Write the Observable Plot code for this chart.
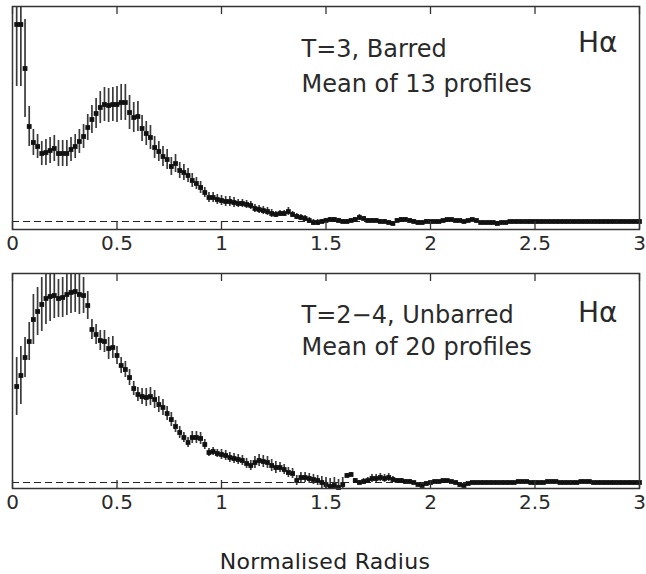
<!DOCTYPE html>
<html>
<head>
<meta charset="utf-8">
<script src="https://cdn.jsdelivr.net/npm/d3@7"></script>
<script src="https://cdn.jsdelivr.net/npm/@observablehq/plot@0.6"></script>
<style>
  html, body { margin: 0; padding: 0; background: white; }
  #wrap { position: relative; width: 646px; height: 574px; overflow: hidden; }
  #wrap svg { display: block; }
  #wrap svg g[aria-label^="x-axis"], #wrap svg g[aria-label^="x-axis"] text { font-size: 20px; }
  #xlabel { position: absolute; left: 0; width: 650px; top: 552px; text-align: center;
            font-family: "DejaVu Sans", sans-serif; font-size: 22px; line-height: 20px; color: #222;
            letter-spacing: 0.3px; }
</style>
</head>
<body>
<div id="wrap"></div>
<script>
// Radius bins (normalised radius)
const radius = [
  0.02,0.04,0.06,0.08,0.10,0.12,0.14,0.16,0.18,0.20,
  0.22,0.24,0.26,0.28,0.30,0.32,0.34,0.36,0.38,0.40,
  0.42,0.44,0.46,0.48,0.50,0.52,0.54,0.56,0.58,0.60,
  0.62,0.64,0.66,0.68,0.70,0.72,0.74,0.76,0.78,0.80,
  0.82,0.84,0.86,0.88,0.90,0.92,0.94,0.96,0.98,1.00,
  1.02,1.04,1.06,1.08,1.10,1.12,1.14,1.16,1.18,1.20,
  1.22,1.24,1.26,1.28,1.30,1.32,1.34,1.36,1.38,1.40,
  1.42,1.44,1.46,1.48,1.50,1.52,1.54,1.56,1.58,1.60,
  1.62,1.64,1.66,1.68,1.70,1.72,1.74,1.76,1.78,1.80,
  1.82,1.84,1.86,1.88,1.90,1.92,1.94,1.96,1.98,2.00,
  2.02,2.04,2.06,2.08,2.10,2.12,2.14,2.16,2.18,2.20,
  2.22,2.24,2.26,2.28,2.30,2.32,2.34,2.36,2.38,2.40,
  2.42,2.44,2.46,2.48,2.50,2.52,2.54,2.56,2.58,2.60,
  2.62,2.64,2.66,2.68,2.70,2.72,2.74,2.76,2.78,2.80,
  2.82,2.84,2.86,2.88,2.90,2.92,2.94,2.96,2.98,3.00
];

// T=3, Barred: mean profile (arbitrary units, 0 = dashed baseline)
const barredMean = [
  1.97,1.97,1.53,0.95,0.79,0.75,0.68,0.69,0.71,0.73,
  0.68,0.68,0.68,0.72,0.75,0.80,0.85,0.94,1.02,1.08,
  1.14,1.17,1.16,1.17,1.17,1.19,1.19,1.09,1.04,1.05,
  0.93,0.88,0.84,0.74,0.70,0.65,0.62,0.55,0.58,0.51,
  0.49,0.46,0.41,0.38,0.34,0.29,0.24,0.24,0.22,0.21,
  0.20,0.20,0.19,0.18,0.18,0.17,0.16,0.13,0.12,0.11,
  0.10,0.08,0.07,0.08,0.08,0.10,0.07,0.05,0.04,0.03,
  0.01,-0.01,-0.01,0.00,0.01,0.02,0.02,0.01,0.00,0.00,
  0.01,0.02,0.04,0.03,0.01,0.01,0.01,0.00,0.00,-0.01,
  -0.02,0.01,0.02,0.02,0.01,0.00,-0.01,-0.01,0.00,0.00,
  0.00,0.00,0.01,0.02,0.02,0.01,0.01,0.00,0.01,0.02,
  0.01,-0.01,-0.01,-0.01,-0.01,-0.02,-0.01,-0.01,0.00,0.00,
  0.00,0.00,0.00,0.00,0.00,0.00,0.00,0.00,0.00,0.00,
  0.00,0.00,0.00,0.00,0.00,0.00,0.00,0.00,0.00,0.00,
  0.00,0.00,0.00,0.00,0.00,0.00,0.00,0.00,0.00,0.00
];
const barredErr = [
  0.62,0.62,0.49,0.20,0.13,0.12,0.12,0.13,0.13,0.13,
  0.13,0.13,0.13,0.12,0.12,0.12,0.12,0.13,0.14,0.15,
  0.16,0.17,0.17,0.17,0.18,0.18,0.18,0.17,0.15,0.15,
  0.13,0.12,0.12,0.11,0.10,0.10,0.10,0.09,0.09,0.08,
  0.08,0.07,0.07,0.06,0.06,0.05,0.05,0.05,0.05,0.05,
  0.05,0.05,0.05,0.04,0.04,0.04,0.04,0.04,0.04,0.04,
  0.04,0.04,0.03,0.03,0.03,0.04,0.03,0.03,0.03,0.03,
  0.03,0.03,0.03,0.02,0.02,0.02,0.02,0.02,0.02,0.02,
  0.02,0.02,0.03,0.02,0.02,0.02,0.02,0.02,0.02,0.02,
  0.02,0.02,0.02,0.02,0.02,0.02,0.02,0.02,0.02,0.01,
  0.01,0.01,0.01,0.01,0.01,0.01,0.01,0.01,0.01,0.01,
  0.01,0.01,0.01,0.01,0.01,0.01,0.01,0.01,0.01,0.01,
  0.01,0.01,0.01,0.01,0.01,0.01,0.01,0.01,0.01,0.01,
  0.01,0.01,0.01,0.01,0.01,0.01,0.01,0.01,0.01,0.01,
  0.01,0.01,0.01,0.01,0.01,0.01,0.01,0.01,0.01,0.01
];

// T=2-4, Unbarred: mean profile
const unbarredMean = [
  0.96,1.07,1.25,1.41,1.63,1.71,1.78,1.84,1.86,1.87,
  1.84,1.85,1.88,1.90,1.91,1.88,1.87,1.77,1.53,1.48,
  1.42,1.41,1.34,1.35,1.27,1.17,1.13,1.05,0.94,0.88,
  0.86,0.85,0.86,0.83,0.78,0.75,0.69,0.63,0.56,0.50,
  0.45,0.40,0.45,0.45,0.44,0.38,0.30,0.31,0.29,0.28,
  0.27,0.25,0.24,0.23,0.22,0.19,0.17,0.20,0.22,0.21,
  0.20,0.17,0.15,0.15,0.13,0.10,0.09,0.02,0.05,0.05,
  0.04,0.03,0.02,0.00,-0.02,-0.04,-0.03,-0.05,-0.02,0.07,
  0.08,0.02,0.00,0.01,0.02,0.04,0.04,0.05,0.04,0.05,
  0.03,0.02,0.02,0.01,0.01,0.00,-0.02,-0.03,-0.01,0.00,
  0.01,0.01,0.02,0.02,0.01,0.00,-0.02,-0.03,-0.01,0.00,
  0.00,0.00,0.00,0.00,0.00,0.00,0.00,0.00,0.00,0.00,
  0.01,0.01,0.01,0.00,0.00,0.00,0.00,0.01,0.01,0.01,
  0.00,0.00,0.00,0.00,0.00,0.01,0.01,0.01,0.00,0.00,
  0.00,0.00,0.00,0.00,0.00,0.00,0.00,0.00,0.00,0.00
];
const unbarredErr = [
  0.29,0.29,0.20,0.19,0.25,0.24,0.27,0.26,0.25,0.23,
  0.19,0.20,0.21,0.21,0.21,0.20,0.18,0.14,0.10,0.10,
  0.10,0.11,0.11,0.11,0.09,0.08,0.08,0.08,0.07,0.07,
  0.08,0.09,0.09,0.09,0.08,0.08,0.07,0.07,0.06,0.06,
  0.05,0.05,0.06,0.06,0.06,0.05,0.04,0.04,0.04,0.05,
  0.05,0.05,0.05,0.05,0.05,0.05,0.05,0.06,0.06,0.06,
  0.06,0.06,0.06,0.05,0.05,0.05,0.05,0.05,0.05,0.05,
  0.05,0.05,0.05,0.06,0.07,0.08,0.08,0.08,0.07,0.02,
  0.02,0.02,0.02,0.03,0.03,0.04,0.04,0.04,0.04,0.04,
  0.03,0.02,0.02,0.02,0.02,0.01,0.01,0.01,0.01,0.01,
  0.01,0.01,0.01,0.01,0.01,0.01,0.01,0.01,0.01,0.01,
  0.01,0.01,0.01,0.01,0.01,0.01,0.01,0.01,0.01,0.01,
  0.01,0.01,0.01,0.01,0.01,0.01,0.01,0.01,0.01,0.01,
  0.01,0.01,0.01,0.01,0.01,0.01,0.01,0.01,0.01,0.01,
  0.01,0.01,0.01,0.01,0.01,0.01,0.01,0.01,0.01,0.01
];

const xTicks = [0, 0.5, 1, 1.5, 2, 2.5, 3];
const xTickLabels = ["0", "0.5", "1", "1.5", "2", "2.5", "3"];
const lineLabel = "Hα";
const xTitle = "Normalised Radius";

const FONT = "DejaVu Sans";
const INK = "#222";

function panel({mean, err, height, marginTop, plotH, yDomain, title1, title2, dy1, dy2, dyH}) {
  const data = radius.map((r, i) => ({r, v: mean[i], e: err[i]}));
  return Plot.plot({
    width: 646,
    height,
    marginLeft: 12,
    marginRight: 7,
    marginTop,
    marginBottom: 26,
    style: {fontFamily: FONT, fontSize: "20px", color: "#2a2a2a", background: "white", display: "block"},
    x: {domain: [0, 3], ticks: xTicks, tickSize: 0, tickPadding: 6, label: null,
        tickFormat: d => xTickLabels[xTicks.indexOf(d)]},
    y: {domain: yDomain, axis: null, clamp: true},
    marks: [
      Plot.ruleY([0], {stroke: INK, strokeWidth: 1, strokeDasharray: "7,4"}),
      Plot.ruleX(data, {x: "r", y1: d => d.v - d.e, y2: d => d.v + d.e, stroke: "#3a3a3a", strokeWidth: 1.7}),
      Plot.dot(data, {x: "r", y: "v", symbol: "square", r: 2.7, fill: "#111", stroke: "none"}),
      Plot.ruleX(xTicks, {insetTop: plotH - 8, stroke: "#333", strokeWidth: 1.3}),
      Plot.ruleX(xTicks, {insetBottom: plotH - 8, stroke: "#333", strokeWidth: 1.3}),
      Plot.frame({stroke: "#333", strokeWidth: 1.5}),
      Plot.text([title1], {text: d => d, frameAnchor: "top-left", textAnchor: "start", lineAnchor: "top",
        dx: 289, dy: dy1, fontSize: 24, fill: "#2a2a2a"}),
      Plot.text([title2], {text: d => d, frameAnchor: "top-left", textAnchor: "start", lineAnchor: "top",
        dx: 289, dy: dy2, fontSize: 24, fill: "#2a2a2a"}),
      Plot.text([lineLabel], {text: d => d, frameAnchor: "top-right", textAnchor: "end", lineAnchor: "top",
        dx: -22, dy: dyH, fontSize: 28, fill: "#2a2a2a"})
    ]
  });
}

const wrap = document.getElementById("wrap");
wrap.appendChild(panel({
  mean: barredMean, err: barredErr, height: 255, marginTop: 6, plotH: 223,
  yDomain: [-0.08, 2.15], title1: "T=3, Barred", title2: "Mean of 13 profiles",
  dy1: 33, dy2: 68, dyH: 26
}));
wrap.appendChild(panel({
  mean: unbarredMean, err: unbarredErr, height: 259, marginTop: 18, plotH: 215,
  yDomain: [-0.06, 2.09], title1: "T=2\u22124, Unbarred", title2: "Mean of 20 profiles",
  dy1: 32, dy2: 64, dyH: 29
}));
const lab = document.createElement("div");
lab.id = "xlabel";
lab.textContent = xTitle;
wrap.appendChild(lab);
</script>
</body>
</html>
